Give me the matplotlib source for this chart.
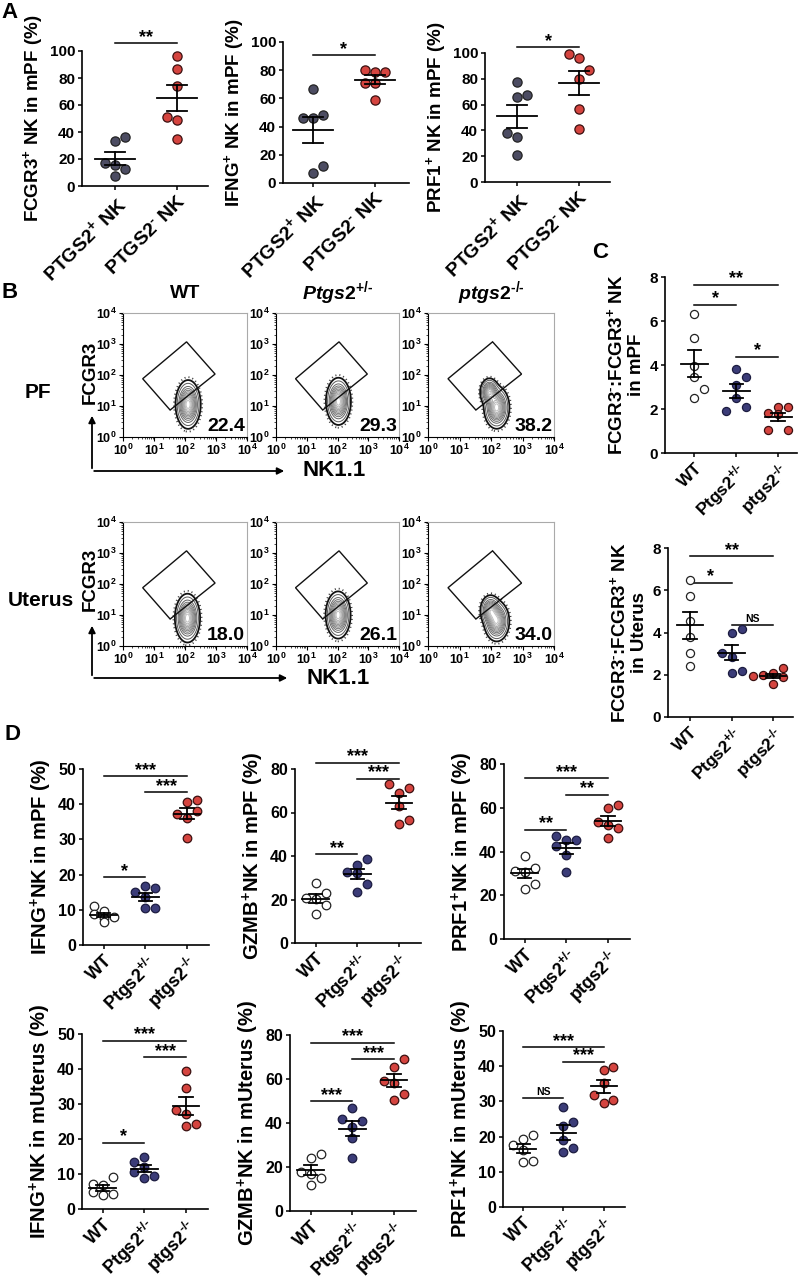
import numpy as np
import matplotlib
matplotlib.use('Agg')
import matplotlib.pyplot as plt
from matplotlib.patches import Polygon
from matplotlib.ticker import FixedLocator

plt.rcParams['font.family'] = ['Liberation Sans', 'DejaVu Sans']
plt.rcParams['font.weight'] = 'bold'
plt.rcParams['axes.labelweight'] = 'bold'
plt.rcParams['mathtext.fontset'] = 'custom'
plt.rcParams['mathtext.rm'] = 'Liberation Sans:bold'
plt.rcParams['mathtext.bf'] = 'Liberation Sans:bold'
plt.rcParams['mathtext.it'] = 'Liberation Sans:bold:italic'
plt.rcParams['mathtext.default'] = 'bf'

GRAY = '#4c4c62'
NAVY = '#3b3c78'
RED = '#d5443f'

# ---------------- data ----------------
# panel A  (PTGS2+ NK vs PTGS2- NK)
a_labels = [r'PTGS2$^{+}$ NK', r'PTGS2$^{\text{-}}$ NK']
a1_pos = [33.3, 36.0, 17.3, 15.8, 12.3, 7.4];   a1_pos_j = [0, 1, -1, 0, 1, 0]
a1_neg = [96.5, 86.4, 73.8, 51.0, 49.0, 35.0];  a1_neg_j = [0, 0, 0, -1, 0, 0]
a2_pos = [66.9, 46.0, 46.0, 48.0, 7.1, 11.8];   a2_pos_j = [0, -1, 0, 1, 0, 1]
a2_neg = [80.4, 79.0, 79.0, 70.9, 70.9, 59.1];  a2_neg_j = [-1, 0, 1, -1, 0, 0]
a3_pos = [77.5, 65.9, 67.2, 38.0, 34.9, 21.2];  a3_pos_j = [0, 0, 1, -1, 0, 0]
a3_neg = [99.0, 95.9, 87.1, 79.8, 56.3, 41.3];  a3_neg_j = [-1, 0, 1, 0, 0, 0]
a_sig = [[(0, 1, 106, '**')], [(0, 1, 90.8, '*')], [(0, 1, 104.6, '*')]]
a_ylabels = [r'FCGR3$^{+}$ NK in mPF (%)', r'IFNG$^{+}$ NK in mPF (%)',
             r'PRF1$^{+}$ NK in mPF (%)']

# panel B  (flow plots, log10 space)
b_cols = ['WT', r'$\mathit{Ptgs2}^{+/\text{-}}$', r'$\mathit{ptgs2}^{\text{-/-}}$']
b_rows = ['PF', 'Uterus']
b_pct = [['22.4', '29.3', '38.2'], ['18.0', '26.1', '34.0']]
gate = [(0.635, 1.88), (2.05, 3.07), (2.97, 2.03), (1.52, 0.87)]
# density components: (centre x, centre y, spread x, spread y, weight)
b_blobs = [
    [[(2.10, 1.05, 0.16, 0.31, 1.0)],
     [(2.03, 1.15, 0.16, 0.30, 1.0)],
     [(1.95, 1.45, 0.12, 0.18, 0.8), (2.18, 0.95, 0.16, 0.27, 1.0)]],
    [[(2.08, 0.90, 0.16, 0.31, 1.0)],
     [(2.02, 1.00, 0.16, 0.30, 1.0)],
     [(1.98, 1.15, 0.13, 0.20, 0.8), (2.18, 0.80, 0.16, 0.26, 1.0)]],
]

# panels C and D  (WT, Ptgs2+/-, ptgs2-/-)
g_labels = ['WT', r'Ptgs2$^{+/\text{-}}$', r'ptgs2$^{\text{-/-}}$']
c1 = [[6.31, 5.25, 3.95, 3.47, 2.5, 2.91], [3.8, 3.47, 3.1, 2.5, 2.1, 1.9],
      [1.81, 2.07, 2.07, 1.78, 1.03, 1.03]]
c1_j = [[0, 0, 0, 0, 0, 1], [0, 1, 0, 0, 1, -1], [-1, 0, 1, 0, -1, 1]]
c1_sig = [(0, 2, 7.65, '**'), (0, 1, 6.75, '*'), (1, 2, 4.38, '*')]
c2 = [[6.5, 5.75, 4.55, 3.78, 3.03, 2.41], [4.0, 4.15, 3.05, 2.83, 2.07, 2.2],
      [2.0, 2.07, 2.3, 1.92, 1.87, 1.54]]
c2_j = [[0, 0, 0, 0, 0, 0], [0, 1, -1, 0, 0, 1], [-1, 0, 1, -2, 1, 0]]
c2_sig = [(0, 2, 7.6, '**'), (0, 1, 6.36, '*'), (1, 2, 4.35, 'NS')]
c_ylabels = [r'FCGR3$^{\text{-}}$:FCGR3$^{+}$ NK' + '\nin mPF',
             r'FCGR3$^{\text{-}}$:FCGR3$^{+}$ NK' + '\nin Uterus']

d1 = [[11.0, 9.6, 8.7, 8.0, 7.8, 6.4], [15.1, 16.7, 16.1, 13.7, 10.4, 10.4],
      [40.7, 41.3, 37.2, 36.2, 38.1, 30.4]]
d1_j = [[-1, 0, -1, 1, 0, 0], [-1, 0, 1, 0, 0, 1], [0, 1, -1, 0, 1, 0]]
d1_sig = [(0, 2, 48, '***'), (1, 2, 43.4, '***'), (0, 1, 19.2, '*')]
d2 = [[27.5, 20.6, 22.9, 20.2, 17.6, 13.3], [38.5, 35.9, 32.8, 32.1, 27.2, 23.4],
      [72.9, 69.0, 71.2, 63.0, 54.7, 56.5]]
d2_j = [[0, -1, 1, 0, 1, 0], [1, 0, -1, 0, 1, 0], [-1, 0, 1, 0, 0, 1]]
d2_sig = [(0, 2, 82.9, '***'), (1, 2, 75.6, '***'), (0, 1, 41, '**')]
d3 = [[37.8, 31.3, 30.5, 32.3, 23.0, 25.3], [47.0, 45.1, 45.4, 42.4, 38.6, 30.6],
      [59.9, 61.3, 53.4, 52.3, 50.8, 46.2]]
d3_j = [[0, -1, 0, 1, 0, 1], [-1, 0, 1, -1, 0, 0], [0, 1, -1, 0, 1, 0]]
d3_sig = [(0, 2, 73.5, '***'), (1, 2, 66, '**'), (0, 1, 50, '**')]
d4 = [[9.1, 7.2, 6.9, 5.0, 4.4, 3.9], [15.0, 13.5, 12.0, 10.6, 9.3, 8.8],
      [39.3, 34.5, 28.3, 27.1, 23.6, 24.3]]
d4_j = [[1, -1, 0, -1, 1, 0], [0, -1, 0, -1, 1, 0], [0, 0, -1, 0, 0, 1]]
d4_sig = [(0, 2, 48.1, '***'), (1, 2, 43.3, '***'), (0, 1, 19.0, '*')]
d5 = [[24.3, 26.1, 17.8, 16.7, 15.0, 12.0], [46.6, 42.0, 41.0, 38.0, 33.0, 24.1],
      [69.3, 65.6, 59.3, 58.0, 53.4, 50.4]]
d5_j = [[0, 1, -1, 0, 1, 0], [0, -1, 1, 0, 0, 0], [1, 0, -1, 0, 1, 0]]
d5_sig = [(0, 2, 76.5, '***'), (1, 2, 69, '***'), (0, 1, 50, '***')]
d6 = [[20.5, 19.3, 17.7, 16.3, 12.7, 13.2], [28.5, 24.1, 23.0, 19.0, 15.6, 16.7],
      [39.9, 39.0, 35.2, 31.7, 29.5, 30.4]]
d6_j = [[1, 0, -1, 0, 0, 1], [0, 1, 0, 0, 0, 1], [1, 0, 0, -1, 0, 1]]
d6_sig = [(0, 2, 45.4, '***'), (1, 2, 41.3, '***'), (0, 1, 30.9, 'NS')]
d_ylabels = [r'IFNG$^{+}$NK in mPF (%)', r'GZMB$^{+}$NK in mPF (%)',
             r'PRF1$^{+}$NK in mPF (%)', r'IFNG$^{+}$NK in mUterus (%)',
             r'GZMB$^{+}$NK in mUterus (%)', r'PRF1$^{+}$NK in mUterus (%)']

# ---------------- drawing ----------------
W, H = 800, 1285
fig = plt.figure(figsize=(W / 100, H / 100), dpi=100)


def axes_px(l, t, r, b):
    return fig.add_axes([l / W, 1 - b / H, (r - l) / W, (b - t) / H])


def dot_panel(ax, groups, jits, styles, ymax, ystep, xlim, step, sig,
              ylabel, xlabels, lab_size, tick_size, xt_size, s=38):
    for i, (vals, jit, (fc, ec)) in enumerate(zip(groups, jits, styles)):
        vals = np.asarray(vals)
        x = i + step * np.asarray(jit)
        ax.scatter(x, vals, s=s, facecolor=fc, edgecolor=ec, linewidth=0.9,
                   zorder=3, clip_on=False)
        m = vals.mean()
        se = vals.std(ddof=1) / np.sqrt(len(vals))
        ax.plot([i - 0.32, i + 0.32], [m, m], color='k', lw=1.3, zorder=4)
        for yy in (m - se, m + se):
            ax.plot([i - 0.16, i + 0.16], [yy, yy], color='k', lw=1.3, zorder=4)
        ax.plot([i, i], [m - se, m + se], color='k', lw=1.3, zorder=4)
    for i, j, y, lab in sig:
        ax.plot([i, j], [y, y], color='k', lw=1.1, clip_on=False)
        ns = lab == 'NS'
        ax.annotate(lab, ((i + j) / 2, y), xytext=(0, 1 if ns else -2),
                    textcoords='offset points', ha='center', va='bottom',
                    fontsize=7.5 if ns else 13, annotation_clip=False)
    ax.set_ylim(0, ymax)
    ax.set_yticks(np.arange(0, ymax + ystep / 2, ystep))
    ax.set_xlim(*xlim)
    ax.set_xticks(range(len(groups)))
    ax.set_xticklabels(xlabels, rotation=45, ha='right', rotation_mode='anchor')
    for sp in ('top', 'right'):
        ax.spines[sp].set_visible(False)
    for sp in ('left', 'bottom'):
        ax.spines[sp].set_linewidth(1.2)
    ax.tick_params(length=3, width=1.1, pad=2)
    ax.tick_params(axis='y', labelsize=tick_size)
    ax.tick_params(axis='x', labelsize=xt_size)
    ax.set_ylabel(ylabel, fontsize=lab_size, labelpad=3)


def flow_panel(ax, blobs, pct):
    g = np.linspace(0, 4, 240)
    X, Y = np.meshgrid(g, g)
    Z = np.zeros_like(X)
    for cx, cy, sx, sy, w in blobs:
        Z += w * np.exp(-((X - cx) ** 2 / (2 * sx ** 2) + (Y - cy) ** 2 / (2 * sy ** 2)))
    Z /= Z.max()
    ax.contour(X, Y, Z, levels=[0.018], colors='#444444', linewidths=1.3,
               linestyles=[(0, (0.6, 1.6))])
    ax.contour(X, Y, Z, levels=[0.04], colors='#111111', linewidths=1.3)
    lv = np.linspace(0.09, 0.92, 11)
    cols = [str(0.35 + 0.4 * k / (len(lv) - 1)) for k in range(len(lv))]
    ax.contour(X, Y, Z, levels=lv, colors=cols, linewidths=0.7)
    ax.add_patch(Polygon(gate, closed=True, fill=False, ec='#111111', lw=1.0, zorder=5))
    ax.text(0.985, 0.02, pct, transform=ax.transAxes, ha='right', va='bottom',
            fontsize=14, zorder=6)
    ax.set_xlim(0, 4)
    ax.set_ylim(0, 4)
    major = [0, 1, 2, 3, 4]
    minor = [k + np.log10(m) for k in range(4) for m in range(2, 10)]
    labs = [r'$10^{%d}$' % k for k in major]
    for axis in (ax.xaxis, ax.yaxis):
        axis.set_major_locator(FixedLocator(major))
        axis.set_minor_locator(FixedLocator(minor))
    ax.set_xticklabels(labs)
    ax.set_yticklabels(labs)
    ax.tick_params(which='major', length=3, width=0.8, labelsize=9, pad=1.5)
    ax.tick_params(which='minor', length=1.5, width=0.5)
    for sp in ('top', 'right'):
        ax.spines[sp].set_color('#aaaaaa')
        ax.spines[sp].set_linewidth(0.8)
    for sp in ('left', 'bottom'):
        ax.spines[sp].set_linewidth(0.8)


gray_st = [(GRAY, '#222222'), (RED, '#3a1010')]
grp_st = [('white', '#222222'), (NAVY, '#1c1c40'), (RED, '#3a1010')]

# panel A
a_rects = [(82, 51, 208, 186), (283, 42, 409, 183), (485, 53, 610, 182)]
a_data = [([a1_pos, a1_neg], [a1_pos_j, a1_neg_j]),
          ([a2_pos, a2_neg], [a2_pos_j, a2_neg_j]),
          ([a3_pos, a3_neg], [a3_pos_j, a3_neg_j])]
a_xlims = [(-0.53, 1.5), (-0.48, 1.55), (-0.52, 1.5)]
for rect, (grp, jit), xl, sg, yl in zip(a_rects, a_data, a_xlims, a_sig, a_ylabels):
    ax = axes_px(*rect)
    dot_panel(ax, grp, jit, gray_st, 100, 20, xl, 0.16, sg, yl, a_labels,
              13.5, 11, 14, s=44)

# panel B
b_x = [(123, 247), (276, 399), (428, 554)]
b_y = [(313, 437), (522, 646)]
for r, (t, b) in enumerate(b_y):
    for c, (l, rr) in enumerate(b_x):
        ax = axes_px(l, t, rr, b)
        flow_panel(ax, b_blobs[r][c], b_pct[r][c])

# panel C
ax = axes_px(665, 277, 797, 453)
dot_panel(ax, c1, c1_j, grp_st, 8, 2, (-0.7, 2.45), 0.24, c1_sig, c_ylabels[0],
          g_labels, 13.5, 11, 12.5, s=34)
ax = axes_px(668, 548, 793, 717)
dot_panel(ax, c2, c2_j, grp_st, 8, 2, (-0.53, 2.48), 0.24, c2_sig, c_ylabels[1],
          g_labels, 13.5, 11, 12.5, s=34)

# panel D
d_rects = [(83, 769, 209, 945), (295, 769, 421, 943), (504, 764, 630, 939),
           (82, 1034, 208, 1209), (290, 1035, 416, 1211), (503, 1031, 625, 1207)]
d_all = [(d1, d1_j, d1_sig, 50, 10), (d2, d2_j, d2_sig, 80, 20), (d3, d3_j, d3_sig, 80, 20),
         (d4, d4_j, d4_sig, 50, 10), (d5, d5_j, d5_sig, 80, 20), (d6, d6_j, d6_sig, 50, 10)]
for rect, (grp, jit, sg, ym, ys), yl in zip(d_rects, d_all, d_ylabels):
    ax = axes_px(*rect)
    dot_panel(ax, grp, jit, grp_st, ym, ys, (-0.5, 2.53), 0.24, sg, yl, g_labels,
              14.5, 11.5, 13)

# figure-level annotations (pixel coordinates)
ov = fig.add_axes([0, 0, 1, 1])
ov.set_xlim(0, W)
ov.set_ylim(H, 0)
ov.axis('off')
for letter, (x, y) in zip('ABCD', [(9, 12), (10, 293), (600, 252), (12, 735)]):
    ov.text(x, y, letter, fontsize=16, ha='center', va='center')
for title, x in zip(b_cols, [185, 338, 491]):
    ov.text(x, 293, title, fontsize=14, ha='center', va='center')
for lab, (x, y) in zip(b_rows, [(38, 393), (41, 600)]):
    ov.text(x, y, lab, fontsize=15, ha='center', va='center')
for y0, ytop, xend, yf in [(471, 413, 287, 372), (678, 623, 290, 579)]:
    ov.annotate('', xy=(92, ytop), xytext=(92, y0),
                arrowprops=dict(arrowstyle='-|>', color='k', lw=1.3, mutation_scale=10))
    ov.annotate('', xy=(xend, y0), xytext=(91.4, y0),
                arrowprops=dict(arrowstyle='-|>', color='k', lw=1.3, mutation_scale=10))
    ov.text(xend + 16, y0, 'NK1.1', fontsize=16, ha='left', va='center')
    ov.text(90, yf, 'FCGR3', fontsize=13.5, rotation=90, ha='center', va='center')

fig.savefig('out.png', dpi=100)
